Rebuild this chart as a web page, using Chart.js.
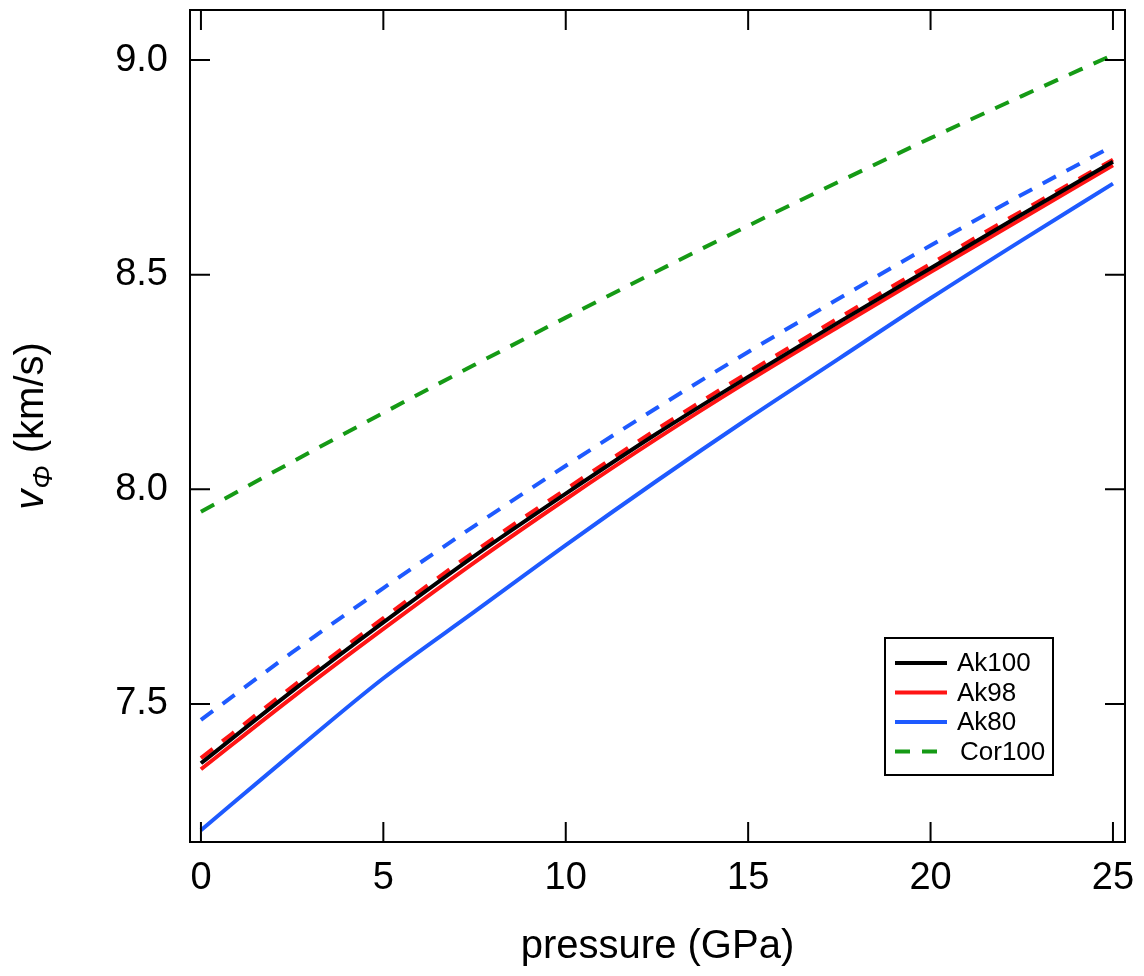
<!DOCTYPE html>
<html>
<head>
<meta charset="utf-8">
<script src="https://cdn.jsdelivr.net/npm/chart.js@4.4.1/dist/chart.umd.min.js"></script>
<style>
  html, body { margin: 0; padding: 0; background: #fff; }
  #wrap { width: 1144px; height: 976px; }
</style>
</head>
<body>
<div id="wrap"><canvas id="vphi"></canvas></div>
<script>
// pressure grid (GPa) and bulk sound velocity v_phi (km/s) per composition
const pressure  = [0, 2.5, 5, 7.5, 10, 12.5, 15, 17.5, 20, 22.5, 25];
const ak100     = [7.362, 7.530, 7.690, 7.845, 7.990, 8.130, 8.262, 8.390, 8.515, 8.640, 8.763];
const ak98      = [7.348, 7.515, 7.675, 7.830, 7.977, 8.118, 8.252, 8.380, 8.506, 8.630, 8.755];
const ak98Alt   = [7.374, 7.540, 7.700, 7.855, 8.000, 8.140, 8.272, 8.400, 8.525, 8.648, 8.768];
const ak80      = [7.206, 7.385, 7.560, 7.715, 7.870, 8.020, 8.165, 8.305, 8.445, 8.580, 8.712];
const ak80Alt   = [7.463, 7.620, 7.770, 7.915, 8.055, 8.190, 8.320, 8.445, 8.568, 8.686, 8.800];
const cor100    = [7.948, 8.064, 8.178, 8.290, 8.400, 8.508, 8.614, 8.717, 8.818, 8.916, 9.012];

const xTicks = [0, 5, 10, 15, 20, 25];
const yTicks = [7.5, 8.0, 8.5, 9.0];
const legendLabels = ["Ak100", "Ak98", "Ak80", "Cor100"];

const FONT = "'Liberation Sans', Arial, sans-serif";
const BLACK = "#000000", RED = "#ff1414", BLUE = "#1e5aff", GREEN = "#159a15";

const pts = ys => pressure.map((p, i) => ({ x: p, y: ys[i] }));

const line = (label, ys, color, dash) => ({
  label,
  data: pts(ys),
  borderColor: color,
  backgroundColor: color,
  borderWidth: 4,
  borderDash: dash || [],
  pointRadius: 0,
  cubicInterpolationMode: "monotone",
  fill: false,
});

// frame, inward ticks on all four sides, legend box and axis titles
const framePlugin = {
  id: "frame",
  afterDraw(chart) {
    const { ctx, chartArea: a, scales } = chart;
    const tick = 20;
    ctx.save();
    ctx.strokeStyle = BLACK;
    ctx.lineWidth = 2;
    ctx.strokeRect(a.left, a.top, a.right - a.left, a.bottom - a.top);

    ctx.beginPath();
    xTicks.forEach(v => {
      const x = scales.x.getPixelForValue(v);
      ctx.moveTo(x, a.bottom); ctx.lineTo(x, a.bottom - tick);
      ctx.moveTo(x, a.top);    ctx.lineTo(x, a.top + tick);
    });
    yTicks.forEach(v => {
      const y = scales.y.getPixelForValue(v);
      ctx.moveTo(a.left, y);  ctx.lineTo(a.left + tick, y);
      ctx.moveTo(a.right, y); ctx.lineTo(a.right - tick, y);
    });
    ctx.stroke();

    // legend
    const bx = 885, by = 638, bw = 168, bh = 137;
    ctx.fillStyle = "#fff";
    ctx.fillRect(bx, by, bw, bh);
    ctx.strokeRect(bx, by, bw, bh);
    ctx.font = `26px ${FONT}`;
    ctx.textBaseline = "middle";
    legendLabels.forEach((lab, i) => {
      const ds = chart.data.datasets.find(d => d.label === lab);
      const y = by + 25 + i * 29.5;
      ctx.beginPath();
      ctx.strokeStyle = ds.borderColor;
      ctx.lineWidth = 4;
      ctx.setLineDash(ds.borderDash);
      ctx.moveTo(895, y); ctx.lineTo(947, y);
      ctx.stroke();
      ctx.setLineDash([]);
      ctx.fillStyle = BLACK;
      ctx.fillText(lab, lab === "Cor100" ? 960 : 957, y + 1);
    });

    // x title
    ctx.fillStyle = BLACK;
    ctx.font = `40px ${FONT}`;
    ctx.textAlign = "center";
    ctx.textBaseline = "alphabetic";
    ctx.fillText("pressure (GPa)", (a.left + a.right) / 2, 958);

    // y title: italic v with italic subscript Phi
    ctx.translate(43, (a.top + a.bottom) / 2);
    ctx.rotate(-Math.PI / 2);
    ctx.textAlign = "left";
    const fMain = `italic 40px ${FONT}`, fSub = `italic 28px ${FONT}`, fRest = `40px ${FONT}`;
    ctx.font = fMain; const wv = ctx.measureText("v").width;
    ctx.font = fSub;  const wp = ctx.measureText("\u03A6").width;
    ctx.font = fRest; const wr = ctx.measureText(" (km/s)").width;
    let x0 = -(wv + wp + 2 + wr) / 2;
    ctx.font = fMain; ctx.fillText("v", x0, 0); x0 += wv + 1;
    ctx.font = fSub;  ctx.fillText("\u03A6", x0, 9); x0 += wp + 1;
    ctx.font = fRest; ctx.fillText(" (km/s)", x0, 0);
    ctx.restore();
  },
};

new Chart(document.getElementById("vphi"), {
  type: "line",
  data: {
    datasets: [
      line("Ak100", ak100, BLACK),
      line("Ak98", ak98, RED),
      line("Ak98 alt", ak98Alt, RED, [15, 12]),
      line("Ak80", ak80, BLUE),
      line("Ak80 alt", ak80Alt, BLUE, [15, 12]),
      line("Cor100", cor100, GREEN, [15, 12]),
    ],
  },
  options: {
    responsive: true,
    maintainAspectRatio: false,
    animation: false,
    devicePixelRatio: 1,
    layout: { padding: { top: 10, right: 19, left: 0, bottom: 0 } },
    plugins: { legend: { display: false }, tooltip: { enabled: false } },
    scales: {
      x: {
        type: "linear",
        min: -0.3,
        max: 25.33,
        afterBuildTicks: s => { s.ticks = xTicks.map(v => ({ value: v })); },
        afterFit: s => { s.height = 134; s.paddingLeft = 0; s.paddingRight = 0; },
        ticks: { color: BLACK, font: { family: FONT, size: 38 }, padding: 6, maxRotation: 0, callback: v => v },
        grid: { display: false },
        border: { display: false },
      },
      y: {
        type: "linear",
        min: 7.1786,
        max: 9.1165,
        afterBuildTicks: s => { s.ticks = yTicks.map(v => ({ value: v })); },
        afterFit: s => { s.width = 190; s.paddingTop = 0; s.paddingBottom = 0; },
        ticks: { color: BLACK, font: { family: FONT, size: 38 }, padding: 14, callback: v => v.toFixed(1) },
        grid: { display: false },
        border: { display: false },
      },
    },
  },
  plugins: [framePlugin],
});
</script>
</body>
</html>
